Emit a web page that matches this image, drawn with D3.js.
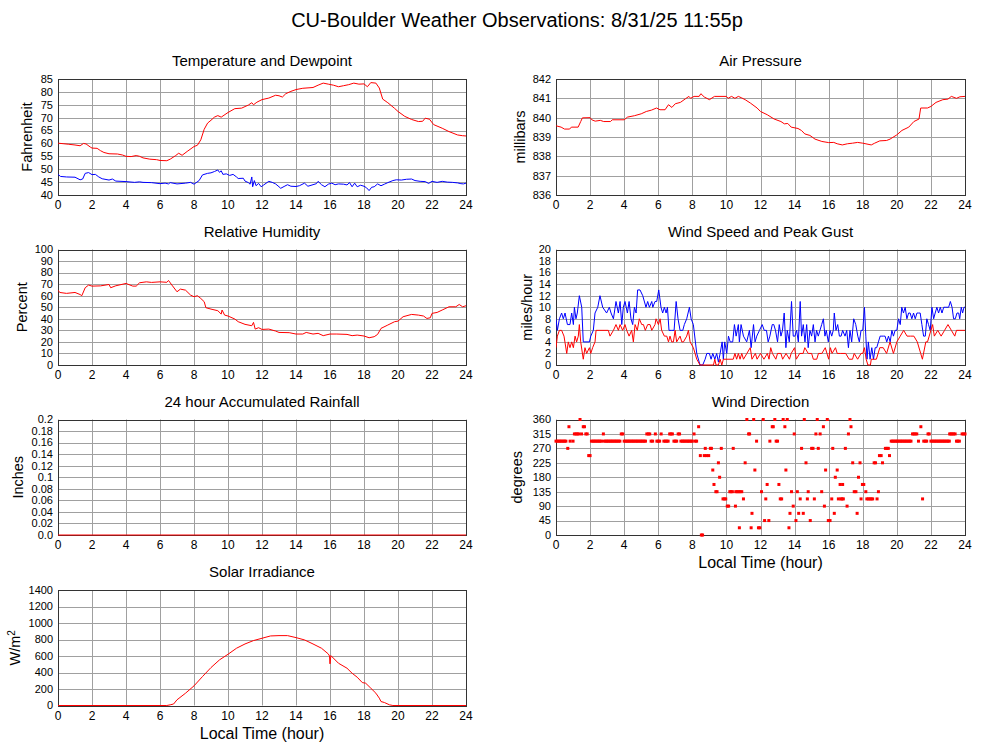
<!DOCTYPE html>
<html><head><meta charset="utf-8">
<script src="https://cdn.jsdelivr.net/npm/d3@7"></script>
<style>body{margin:0;background:#fff}text{font-family:"Liberation Sans",Arial,Helvetica,sans-serif;fill:#000}</style>
</head><body>
<script>
// ---------- DATA ----------
const chartTitle = "CU-Boulder Weather Observations: 8/31/25 11:55p";
const hourTicks = [0,2,4,6,8,10,12,14,16,18,20,22,24];
const tempTicks = [40,45,50,55,60,65,70,75,80,85];
const pressureTicks = [836,837,838,839,840,841,842];
const humidityTicks = [0,10,20,30,40,50,60,70,80,90,100];
const windTicks = [0,2,4,6,8,10,12,14,16,18,20];
const rainTicks = [0,0.02,0.04,0.06,0.08,0.1,0.12,0.14,0.16,0.18,0.2];
const rainTickLabels = ["0.0","0.02","0.04","0.06","0.08","0.1","0.12","0.14","0.16","0.18","0.2"];
const dirTicks = [0,45,90,135,180,225,270,315,360];
const solarTicks = [0,200,400,600,800,1000,1200,1400];

const temperature = [[0,60.1],[0.3,59.9],[0.6,59.7],[1.0,59.4],[1.3,59.1],[1.5,60.0],[1.65,59.8],[1.9,58.6],[2.0,58.2],[2.3,58.1],[2.5,57.2],[2.7,56.5],[3.0,56.0],[3.5,55.9],[3.8,55.5],[4.0,55.0],[4.3,54.9],[4.6,55.3],[4.8,55.0],[5.0,54.4],[5.4,53.9],[5.8,53.7],[6.0,53.4],[6.4,53.3],[6.6,53.9],[6.9,55.2],[7.1,56.2],[7.3,55.4],[7.6,56.9],[8.0,58.8],[8.2,59.3],[8.4,61.4],[8.6,65.5],[8.8,67.9],[9.0,69.0],[9.2,70.2],[9.4,70.8],[9.6,70.2],[10.0,72.0],[10.4,73.5],[10.8,73.7],[11.2,74.9],[11.4,75.8],[11.5,75.0],[11.7,76.0],[12.0,77.0],[12.4,77.6],[12.8,78.7],[13.0,78.5],[13.2,78.0],[13.4,79.3],[13.7,80.2],[14.0,80.9],[14.4,81.4],[15.0,81.7],[15.3,82.6],[15.6,83.4],[15.9,83.0],[16.2,82.6],[16.5,82.0],[16.8,82.4],[17.1,82.8],[17.4,83.4],[17.7,83.0],[18.0,83.1],[18.2,82.0],[18.4,83.6],[18.7,83.4],[18.9,81.5],[19.1,77.2],[19.4,75.8],[19.8,73.6],[20.0,72.4],[20.4,70.5],[20.8,69.3],[21.2,68.5],[21.45,68.6],[21.6,69.8],[21.85,69.4],[22.1,67.3],[22.6,65.9],[23.0,64.6],[23.5,63.3],[23.8,63.0],[24,62.9]];

const dewpoint = [[0,48.0],[0.15,47.2],[0.5,47.0],[1.0,46.9],[1.3,45.9],[1.45,46.2],[1.6,48.4],[1.8,48.7],[2.0,47.9],[2.2,48.0],[2.4,47.0],[2.6,46.3],[3.0,45.8],[3.2,46.2],[3.4,45.4],[4.0,45.2],[4.5,44.9],[4.8,45.1],[5.0,44.9],[5.5,44.8],[6.0,44.4],[6.3,44.6],[6.5,44.3],[6.6,44.8],[7.0,44.3],[7.5,44.6],[7.8,44.9],[8.0,44.2],[8.3,45.6],[8.5,47.8],[8.8,48.4],[9.0,48.6],[9.2,49.1],[9.4,49.7],[9.5,48.8],[9.6,49.4],[9.7,48.0],[9.9,48.2],[10.1,47.6],[10.3,48.0],[10.5,47.0],[10.6,46.4],[10.9,46.5],[11.0,45.4],[11.2,44.8],[11.3,44.2],[11.4,47.0],[11.45,43.2],[11.55,45.6],[11.65,43.6],[11.8,44.5],[11.95,43.2],[12.1,43.9],[12.4,45.3],[12.6,44.9],[12.8,44.3],[13.0,43.2],[13.1,42.6],[13.3,43.3],[13.5,44.0],[13.7,43.4],[14.0,43.3],[14.2,43.6],[14.5,44.6],[14.7,43.4],[15.0,44.0],[15.2,44.4],[15.3,45.3],[15.5,44.0],[15.7,43.2],[15.9,44.2],[16.1,44.6],[16.3,44.0],[16.5,44.3],[16.8,44.2],[17.0,43.9],[17.15,44.8],[17.3,43.2],[17.45,44.6],[17.6,43.2],[17.8,43.8],[18.0,43.4],[18.15,42.8],[18.3,41.7],[18.45,43.0],[18.6,43.2],[18.8,44.3],[19.0,43.6],[19.2,44.2],[19.4,44.8],[19.7,45.6],[19.9,45.9],[20.2,45.8],[20.5,46.1],[20.8,46.2],[21.0,45.6],[21.3,45.3],[21.6,45.2],[21.8,44.5],[22.0,45.3],[22.3,44.9],[22.6,45.3],[22.9,45.0],[23.2,44.9],[23.5,44.7],[23.7,44.4],[23.85,44.3],[24,44.6]];

const pressure = [[0,839.58],[0.3,839.51],[0.5,839.41],[0.8,839.41],[0.9,839.51],[1.3,839.51],[1.45,839.8],[1.55,839.99],[2.0,840.0],[2.1,839.89],[2.3,839.82],[2.6,839.86],[2.8,839.8],[3.2,839.8],[3.3,839.89],[4.0,839.89],[4.2,840.03],[4.6,840.1],[5.0,840.2],[5.3,840.32],[5.6,840.39],[5.9,840.5],[6.1,840.41],[6.4,840.41],[6.6,840.67],[6.8,840.53],[7.0,840.72],[7.3,840.79],[7.6,840.98],[7.8,841.1],[7.9,841.0],[8.1,841.1],[8.4,841.1],[8.5,841.24],[8.7,841.07],[9.0,840.93],[9.3,841.1],[10.0,841.1],[10.1,841.0],[10.3,841.1],[10.5,841.0],[10.7,841.1],[10.9,841.02],[11.1,840.93],[11.4,840.76],[11.8,840.5],[12.0,840.32],[12.4,840.15],[12.8,839.93],[13.2,839.8],[13.4,839.68],[13.6,839.7],[13.8,839.51],[14.2,839.44],[14.4,839.34],[14.6,839.16],[14.9,839.08],[15.2,838.89],[15.6,838.77],[16.0,838.71],[16.3,838.72],[16.5,838.65],[16.8,838.59],[17.1,838.65],[17.4,838.68],[17.7,838.72],[18.0,838.68],[18.5,838.59],[18.7,838.68],[19.0,838.8],[19.4,838.82],[19.6,838.89],[20.0,839.11],[20.3,839.34],[20.7,839.51],[21.0,839.8],[21.3,839.93],[21.4,840.5],[21.8,840.5],[22.0,840.58],[22.3,840.79],[22.7,840.93],[23.0,840.96],[23.2,841.1],[23.5,841.0],[23.7,841.08],[24,841.1]];

const humidity = [[0,64.8],[0.1,62.8],[0.5,62.0],[1.0,62.8],[1.3,61.0],[1.4,60.0],[1.6,66.9],[1.8,69.2],[2.0,68.3],[2.5,68.5],[3.0,69.7],[3.1,66.9],[3.4,68.6],[4.0,70.6],[4.4,68.3],[4.6,68.3],[4.8,71.2],[5.2,72.0],[5.5,71.5],[6.0,72.0],[6.4,71.6],[6.5,73.2],[6.7,69.2],[7.0,63.4],[7.2,65.7],[7.5,64.8],[7.8,60.5],[8.0,59.1],[8.2,60.0],[8.4,57.6],[8.6,54.8],[8.7,49.6],[9.0,48.4],[9.4,47.0],[9.6,44.1],[9.65,47.6],[9.8,43.2],[10.0,42.4],[10.4,39.8],[10.6,37.5],[11.0,35.2],[11.4,34.0],[11.5,36.9],[11.6,31.1],[11.8,32.3],[12.0,30.8],[12.4,31.1],[12.8,29.4],[13.0,28.2],[13.6,28.0],[14.0,26.8],[14.4,26.8],[14.6,28.2],[15.0,26.8],[15.3,27.4],[15.6,25.4],[16.0,26.8],[16.4,26.8],[17.0,26.5],[17.3,25.4],[17.6,25.9],[18.0,25.1],[18.3,23.6],[18.6,24.5],[18.8,26.5],[19.0,31.7],[19.4,34.6],[19.8,37.5],[20.0,38.0],[20.3,41.8],[20.8,43.8],[21.2,43.2],[21.5,42.4],[21.7,40.3],[21.9,40.9],[22.0,44.7],[22.3,45.5],[22.6,47.6],[23.0,50.4],[23.4,50.4],[23.6,52.4],[23.8,50.4],[24,51.3]];

const windSpeed = [[0,3],[0.08,5],[0.2,6],[0.33,6],[0.47,5],[0.63,2],[0.72,4],[0.82,3],[0.92,4],[1.02,3],[1.12,5],[1.21,4],[1.31,5],[1.37,7],[1.45,4],[1.6,1],[1.7,3],[1.8,2],[1.96,3],[2.04,2],[2.15,3],[2.29,4],[2.35,6],[2.58,6],[3.07,6],[3.17,5],[3.37,6],[3.52,7],[3.66,6],[3.76,7],[3.91,6],[4.05,7],[4.15,6],[4.29,5],[4.44,6],[4.54,4],[4.64,7],[4.77,6],[4.89,8],[5.03,7],[5.13,7],[5.24,6],[5.38,7],[5.52,7],[5.62,6],[5.81,7],[5.87,8],[6.01,7],[6.11,8],[6.2,6],[6.36,5],[6.5,5],[6.6,4],[6.69,5],[6.79,4],[6.89,4],[6.99,6],[7.08,4],[7.28,5],[7.38,4],[7.48,4],[7.67,5],[7.77,6],[7.87,4],[8.06,3],[8.26,1],[8.45,0],[9.24,0],[9.32,1],[9.39,0],[9.53,0],[9.63,1],[9.73,0],[9.82,1],[10.4,1],[10.5,2],[10.6,1],[10.7,2],[10.8,1],[10.9,2],[11.0,1],[11.2,2],[11.4,3],[11.5,1],[11.7,2],[11.8,1],[12.0,2],[12.2,1],[12.4,2],[12.5,1],[12.6,3],[12.7,2],[12.9,1],[13.0,2],[13.2,2],[13.3,1],[13.5,2],[13.7,1],[13.8,2],[14.0,3],[14.1,1],[14.3,2],[14.5,2],[14.6,3],[14.8,2],[15.0,2],[15.1,1],[15.3,1],[15.4,2],[15.6,2],[15.8,3],[15.9,2],[16.0,1],[16.1,3],[16.2,2],[16.4,3],[16.5,2],[16.7,2],[16.9,2],[17.0,2],[17.2,1],[17.4,1],[17.5,2],[17.7,1],[17.9,2],[18.0,2],[18.1,3],[18.2,1],[18.3,0],[18.45,0],[18.5,1],[18.8,1],[19.0,3],[19.2,3],[19.4,2],[19.6,4],[19.8,2],[20.0,4],[20.2,5],[20.4,6],[20.6,5],[20.8,5],[21.0,5],[21.2,4],[21.4,2],[21.5,1],[21.7,4],[21.8,4],[21.9,5],[22.0,6],[22.1,7],[22.2,5],[22.4,6],[22.6,5],[22.8,6],[23.0,7],[23.2,6],[23.4,5],[23.5,6],[23.7,6],[24,6]];

const windGust = [[0,8],[0.08,6],[0.2,8],[0.33,9],[0.43,8],[0.53,9],[0.67,7],[0.82,7],[0.92,9],[1.02,7],[1.08,10],[1.17,8],[1.25,9],[1.37,12],[1.51,10],[1.6,4],[1.7,4],[1.96,4],[2.04,5],[2.19,6],[2.29,9],[2.45,10],[2.58,12],[2.74,10],[2.97,9],[3.13,10],[3.23,9],[3.37,8],[3.52,11],[3.66,9],[3.76,11],[3.86,7],[3.95,10],[4.05,11],[4.19,9],[4.29,11],[4.4,8],[4.5,7],[4.6,10],[4.7,9],[4.79,13],[4.93,13],[5.09,12],[5.28,10],[5.38,11],[5.48,10],[5.62,11],[5.68,10],[5.81,11],[5.91,11],[6.03,13],[6.16,10],[6.26,9],[6.36,10],[6.46,9],[6.54,10],[6.63,6],[6.79,6],[6.93,6],[7.05,11],[7.16,8],[7.28,6],[7.44,6],[7.53,7],[7.67,8],[7.83,10],[7.93,8],[8.06,7],[8.26,2],[8.45,0],[8.61,0],[8.75,1],[8.85,2],[9.0,2],[9.1,1],[9.2,2],[9.32,1],[9.43,2],[9.53,0.5],[9.63,2],[9.75,4],[9.82,1],[9.9,4],[10.02,2],[10.12,5],[10.22,4],[10.37,4],[10.47,7],[10.57,5],[10.7,7],[10.76,4],[10.86,7],[11.0,5],[11.19,4],[11.35,6],[11.45,3],[11.59,7],[11.68,4],[11.78,5],[11.94,6],[12.1,7],[12.22,6],[12.35,6],[12.45,4],[12.55,5],[12.69,7],[12.78,7],[12.88,6],[13.0,4],[13.1,7],[13.2,5],[13.29,6],[13.39,9],[13.49,3],[13.57,6],[13.69,4],[13.82,11],[13.92,5],[14.02,5],[14.12,6],[14.22,4],[14.33,11],[14.41,5],[14.51,7],[14.61,4],[14.71,7],[14.8,3],[14.9,6],[15.0,5],[15.1,7],[15.2,4],[15.29,6],[15.39,5],[15.49,6],[15.59,7],[15.69,8],[15.78,5],[15.86,6],[15.98,4],[16.08,6],[16.18,5],[16.27,6],[16.33,9],[16.43,6],[16.53,7],[16.63,5],[16.73,5],[16.82,6],[16.96,5],[17.06,6],[17.16,3],[17.25,6],[17.35,4],[17.47,8],[17.59,7],[17.71,5],[17.8,4],[17.9,6],[18.0,6],[18.1,10],[18.18,5],[18.25,1],[18.33,4],[18.43,1],[18.53,3],[18.63,1],[18.73,3],[18.82,3],[18.92,4],[19.02,5],[19.12,5],[19.22,5],[19.31,5],[19.41,4],[19.51,5],[19.61,4],[19.71,6],[19.8,5],[19.9,6],[20.0,6],[20.1,8],[20.2,7],[20.29,10],[20.39,9],[20.49,10],[20.59,8],[20.69,9],[20.78,9],[20.88,8],[20.98,9],[21.08,8],[21.18,9],[21.27,9],[21.37,9],[21.47,7],[21.57,5],[21.67,5],[21.76,8],[21.86,7],[21.96,6],[22.06,10],[22.16,8],[22.25,9],[22.35,10],[22.45,9],[22.55,10],[22.65,9],[22.75,10],[22.84,10],[22.94,10],[23.04,10],[23.14,11],[23.24,10],[23.33,8],[23.43,8],[23.53,9],[23.63,9],[23.69,8],[23.78,10],[23.86,9],[23.94,10],[24,10]];

const rainfall = [[0,0],[24,0]];

const solar = [[0,0],[6.4,0],[6.6,8],[6.8,18],[7.0,69],[7.5,149],[8.0,238],[8.5,351],[9.0,460],[9.5,553],[10.0,621],[10.5,694],[11.0,746],[11.5,787],[12.0,815],[12.5,843],[13.0,847],[13.5,847],[14.0,823],[14.5,795],[15.0,746],[15.5,694],[15.9,625],[15.97,600],[16.0,505],[16.05,605],[16.5,512],[17.0,452],[17.3,391],[17.6,343],[17.9,278],[18.1,270],[18.4,210],[18.7,149],[18.9,89],[19.0,48],[19.2,36],[19.5,8],[19.7,0],[24,0]];

const windDirection = [
[0,292.5],[0.08,292.5],[0.17,292.5],[0.25,292.5],[0.33,292.5],[0.42,292.5],[0.5,292.5],[0.58,292.5],[0.83,292.5],[1.0,292.5],
[2.08,292.5],[2.17,292.5],[2.25,292.5],[2.33,292.5],[2.42,292.5],[2.5,292.5],[2.58,292.5],[2.67,292.5],[2.83,292.5],[2.92,292.5],[3.0,292.5],[3.08,292.5],[3.17,292.5],[3.25,292.5],[3.33,292.5],[3.42,292.5],[3.5,292.5],[3.58,292.5],[3.67,292.5],[3.75,292.5],
[4.0,292.5],[4.08,292.5],[4.17,292.5],[4.25,292.5],[4.33,292.5],[4.42,292.5],[4.5,292.5],[4.58,292.5],[4.67,292.5],[4.75,292.5],[4.83,292.5],[4.92,292.5],[5.0,292.5],[5.08,292.5],[5.17,292.5],[5.25,292.5],
[5.58,292.5],[5.67,292.5],[5.92,292.5],[6.0,292.5],[6.08,292.5],[6.33,292.5],[6.42,292.5],[6.5,292.5],[6.58,292.5],[6.92,292.5],[7.0,292.5],[7.08,292.5],
[7.33,292.5],[7.42,292.5],[7.5,292.5],[7.58,292.5],[7.67,292.5],[7.75,292.5],[7.83,292.5],[7.92,292.5],[8.0,292.5],[8.17,292.5],[8.25,292.5],
[11.77,292.5],[12.55,292.5],[12.92,292.5],[13.0,292.5],
[19.67,292.5],[19.75,292.5],[19.83,292.5],[19.92,292.5],[20.0,292.5],[20.08,292.5],[20.17,292.5],[20.25,292.5],[20.33,292.5],[20.42,292.5],[20.5,292.5],[20.58,292.5],[20.67,292.5],[20.75,292.5],[20.83,292.5],
[21.27,292.5],[21.58,292.5],[21.67,292.5],[21.75,292.5],
[22.0,292.5],[22.08,292.5],[22.17,292.5],[22.25,292.5],[22.33,292.5],[22.42,292.5],[22.5,292.5],[22.58,292.5],[22.67,292.5],[22.75,292.5],[22.83,292.5],[22.92,292.5],[23.0,292.5],[23.08,292.5],[23.5,292.5],[23.58,292.5],[23.67,292.5],
[1.08,315],[1.17,315],[1.25,315],[1.33,315],[1.5,315],[1.75,315],[1.83,315],[2.78,315],[3.83,315],[3.92,315],[5.33,315],[5.42,315],[5.5,315],[5.83,315],[6.17,315],[6.67,315],[6.75,315],[6.83,315],[7.17,315],[7.25,315],[8.1,315],[11.3,315],[11.36,315],[13.98,315],[15.25,315],[15.5,315],[17.16,315],[20.92,315],[21.0,315],[21.08,315],[21.17,315],[21.83,315],[21.9,315],[23.1,315],[23.17,315],[23.25,315],[23.33,315],[23.42,315],[23.83,315],[23.92,315],[24.0,315],
[0.76,337.5],[1.6,337.5],[1.67,337.5],[8.37,337.5],[12.69,337.5],[12.75,337.5],[13.43,337.5],[15.69,337.5],[17.31,337.5],[21.41,337.5],
[1.41,360],[11.2,360],[11.6,360],[12.16,360],[12.84,360],[13.33,360],[13.57,360],[14.57,360],[15.33,360],[15.92,360],[17.25,360],
[0.69,270],[8.76,270],[9.06,270],[9.12,270],[9.7,270],[10.4,270],[14.41,270],[15.0,270],[15.08,270],[15.39,270],[16.24,270],[16.98,270],[19.33,270],[19.42,270],[19.5,270],
[1.92,247.5],[2.0,247.5],[8.47,247.5],[8.7,247.5],[8.83,247.5],[8.96,247.5],[18.98,247.5],[19.08,247.5],[19.57,247.5],
[9.53,225],[11.1,225],[14.67,225],[17.41,225],[17.84,225],[18.67,225],[18.75,225],[19.16,225],
[9.2,202.5],[11.67,202.5],[13.49,202.5],[15.82,202.5],[16.5,202.5],
[9.6,180],[16.39,180],[17.75,180],
[9.27,157.5],[12.39,157.5],[13.08,157.5],[16.67,157.5],[16.82,157.5],[17.98,157.5],[18.06,157.5],
[9.38,135],[9.45,135],[10.2,135],[10.27,135],[10.35,135],[10.55,135],[10.63,135],[10.72,135],[10.8,135],[10.9,135],[12.06,135],[13.82,135],[14.16,135],[14.8,135],[15.59,135],[17.5,135],[17.6,135],[18.18,135],[18.92,135],
[9.8,112.5],[9.88,112.5],[9.96,112.5],[11.0,112.5],[12.31,112.5],[13.16,112.5],[13.24,112.5],[14.33,112.5],[14.75,112.5],[15.16,112.5],[16.18,112.5],[16.57,112.5],[16.72,112.5],[16.78,112.5],[16.86,112.5],[17.9,112.5],[18.24,112.5],[18.33,112.5],[18.42,112.5],[18.5,112.5],[18.58,112.5],[18.84,112.5],[21.51,112.5],
[10.05,90],[10.13,90],[10.53,90],[13.92,90],[15.75,90],[17.08,90],
[11.5,67.5],[13.73,67.5],[14.24,67.5],[14.51,67.5],[16.33,67.5],[17.67,67.5],
[12.24,45],[12.49,45],[14.08,45],[14.92,45],[15.98,45],[16.08,45],
[10.76,22.5],[11.45,22.5],[11.88,22.5],[11.96,22.5],[13.67,22.5],
[8.53,0],[8.6,0]
];

// ---------- DRAW ----------
const svg = d3.select("body").append("svg").attr("width",1000).attr("height",745);

svg.append("text").attr("x",517).attr("y",27).attr("text-anchor","middle")
  .style("font-size","20px").text(chartTitle);

function panel(cfg){
  const {x0,x1,y0,y1,domain,ticks,labels,title,ylabel,ylabelX,lines,points,xlabel} = cfg;
  const g = svg.append("g");
  const x = d3.scaleLinear().domain([0,24]).range([x0,x1]);
  const y = d3.scaleLinear().domain(domain).range([y1,y0]);
  const crisp = v => Math.round(v)+0.5;
  // grid
  g.selectAll(null).data(hourTicks).enter().append("line")
    .attr("x1",d=>crisp(x(d))).attr("x2",d=>crisp(x(d)))
    .attr("y1",y0).attr("y2",y1).attr("stroke","#a0a0a0").attr("stroke-width",1);
  g.selectAll(null).data(ticks).enter().append("line")
    .attr("y1",d=>crisp(y(d))).attr("y2",d=>crisp(y(d)))
    .attr("x1",x0).attr("x2",x1).attr("stroke","#a0a0a0").attr("stroke-width",1);
  // tick labels
  g.selectAll(null).data(hourTicks).enter().append("text")
    .attr("x",d=>x(d)).attr("y",y1+14).attr("text-anchor","middle")
    .style("font-size","12px").text(d=>d);
  g.selectAll(null).data(ticks).enter().append("text")
    .attr("x",x0-5).attr("y",d=>y(d)).attr("dy","0.35em").attr("text-anchor","end")
    .style("font-size","11px").text((d,i)=>labels?labels[i]:d);
  // frame
  g.append("rect").attr("x",crisp(x0)).attr("y",crisp(y0))
    .attr("width",Math.round(x1)-Math.round(x0)).attr("height",Math.round(y1)-Math.round(y0))
    .attr("fill","none").attr("stroke","#333").attr("stroke-width",1);
  // clip
  const id = "clip"+Math.round(x0)+"_"+Math.round(y0);
  svg.append("clipPath").attr("id",id).append("rect")
    .attr("x",x0).attr("y",y0-1).attr("width",x1-x0+1).attr("height",y1-y0+2);
  const line = d3.line().x(d=>x(d[0])).y(d=>y(d[1]));
  (lines||[]).forEach(s=>{
    g.append("path").datum(s.data).attr("d",line).attr("fill","none")
      .attr("stroke",s.color).attr("stroke-width",1).attr("clip-path","url(#"+id+")");
  });
  if(points){
    g.selectAll(null).data(points).enter().append("rect")
      .attr("x",d=>x(d[0])-1.5).attr("y",d=>y(d[1])-1.5)
      .attr("width",3).attr("height",3).attr("fill","#ff0000");
  }
  // title
  g.append("text").attr("x",(x0+x1)/2).attr("y",y0-13).attr("text-anchor","middle")
    .style("font-size","15px").text(title);
  // y label
  const yl = g.append("text").attr("transform",`translate(${ylabelX},${(y0+y1)/2}) rotate(-90)`)
    .attr("text-anchor","middle").attr("dy","0.35em").style("font-size","14.5px");
  if(ylabel==="W/m2"){
    yl.text("W/m");
    yl.append("tspan").attr("dy","-0.5em").style("font-size","10px").text("2");
  } else yl.text(ylabel);
  if(xlabel){
    g.append("text").attr("x",(x0+x1)/2).attr("y",y1+33).attr("text-anchor","middle")
      .style("font-size","16px").text("Local Time (hour)");
  }
}

const L = [58,466], R = [556,965];
const rows = [[79,195],[249.5,365],[419.5,535],[590,705.5]];

panel({x0:L[0],x1:L[1],y0:rows[0][0],y1:rows[0][1],domain:[40,85],ticks:tempTicks,
  title:"Temperature and Dewpoint",ylabel:"Fahrenheit",ylabelX:27,
  lines:[{data:temperature,color:"#ff0000"},{data:dewpoint,color:"#0000ff"}]});
panel({x0:R[0],x1:R[1],y0:rows[0][0],y1:rows[0][1],domain:[836,842],ticks:pressureTicks,
  title:"Air Pressure",ylabel:"millibars",ylabelX:520,
  lines:[{data:pressure,color:"#ff0000"}]});
panel({x0:L[0],x1:L[1],y0:rows[1][0],y1:rows[1][1],domain:[0,100],ticks:humidityTicks,
  title:"Relative Humidity",ylabel:"Percent",ylabelX:22,
  lines:[{data:humidity,color:"#ff0000"}]});
panel({x0:R[0],x1:R[1],y0:rows[1][0],y1:rows[1][1],domain:[0,20],ticks:windTicks,
  title:"Wind Speed and Peak Gust",ylabel:"miles/hour",ylabelX:527,
  lines:[{data:windGust,color:"#0000ff"},{data:windSpeed,color:"#ff0000"}]});
panel({x0:L[0],x1:L[1],y0:rows[2][0],y1:rows[2][1],domain:[0,0.2],ticks:rainTicks,labels:rainTickLabels,
  title:"24 hour Accumulated Rainfall",ylabel:"Inches",ylabelX:18,
  lines:[{data:rainfall,color:"#ff0000"}]});
panel({x0:R[0],x1:R[1],y0:rows[2][0],y1:rows[2][1],domain:[0,360],ticks:dirTicks,
  title:"Wind Direction",ylabel:"degrees",ylabelX:517,points:windDirection,xlabel:true});
panel({x0:L[0],x1:L[1],y0:rows[3][0],y1:rows[3][1],domain:[0,1400],ticks:solarTicks,
  title:"Solar Irradiance",ylabel:"W/m2",ylabelX:15,
  lines:[{data:solar,color:"#ff0000"}],xlabel:true});
</script>
</body></html>
